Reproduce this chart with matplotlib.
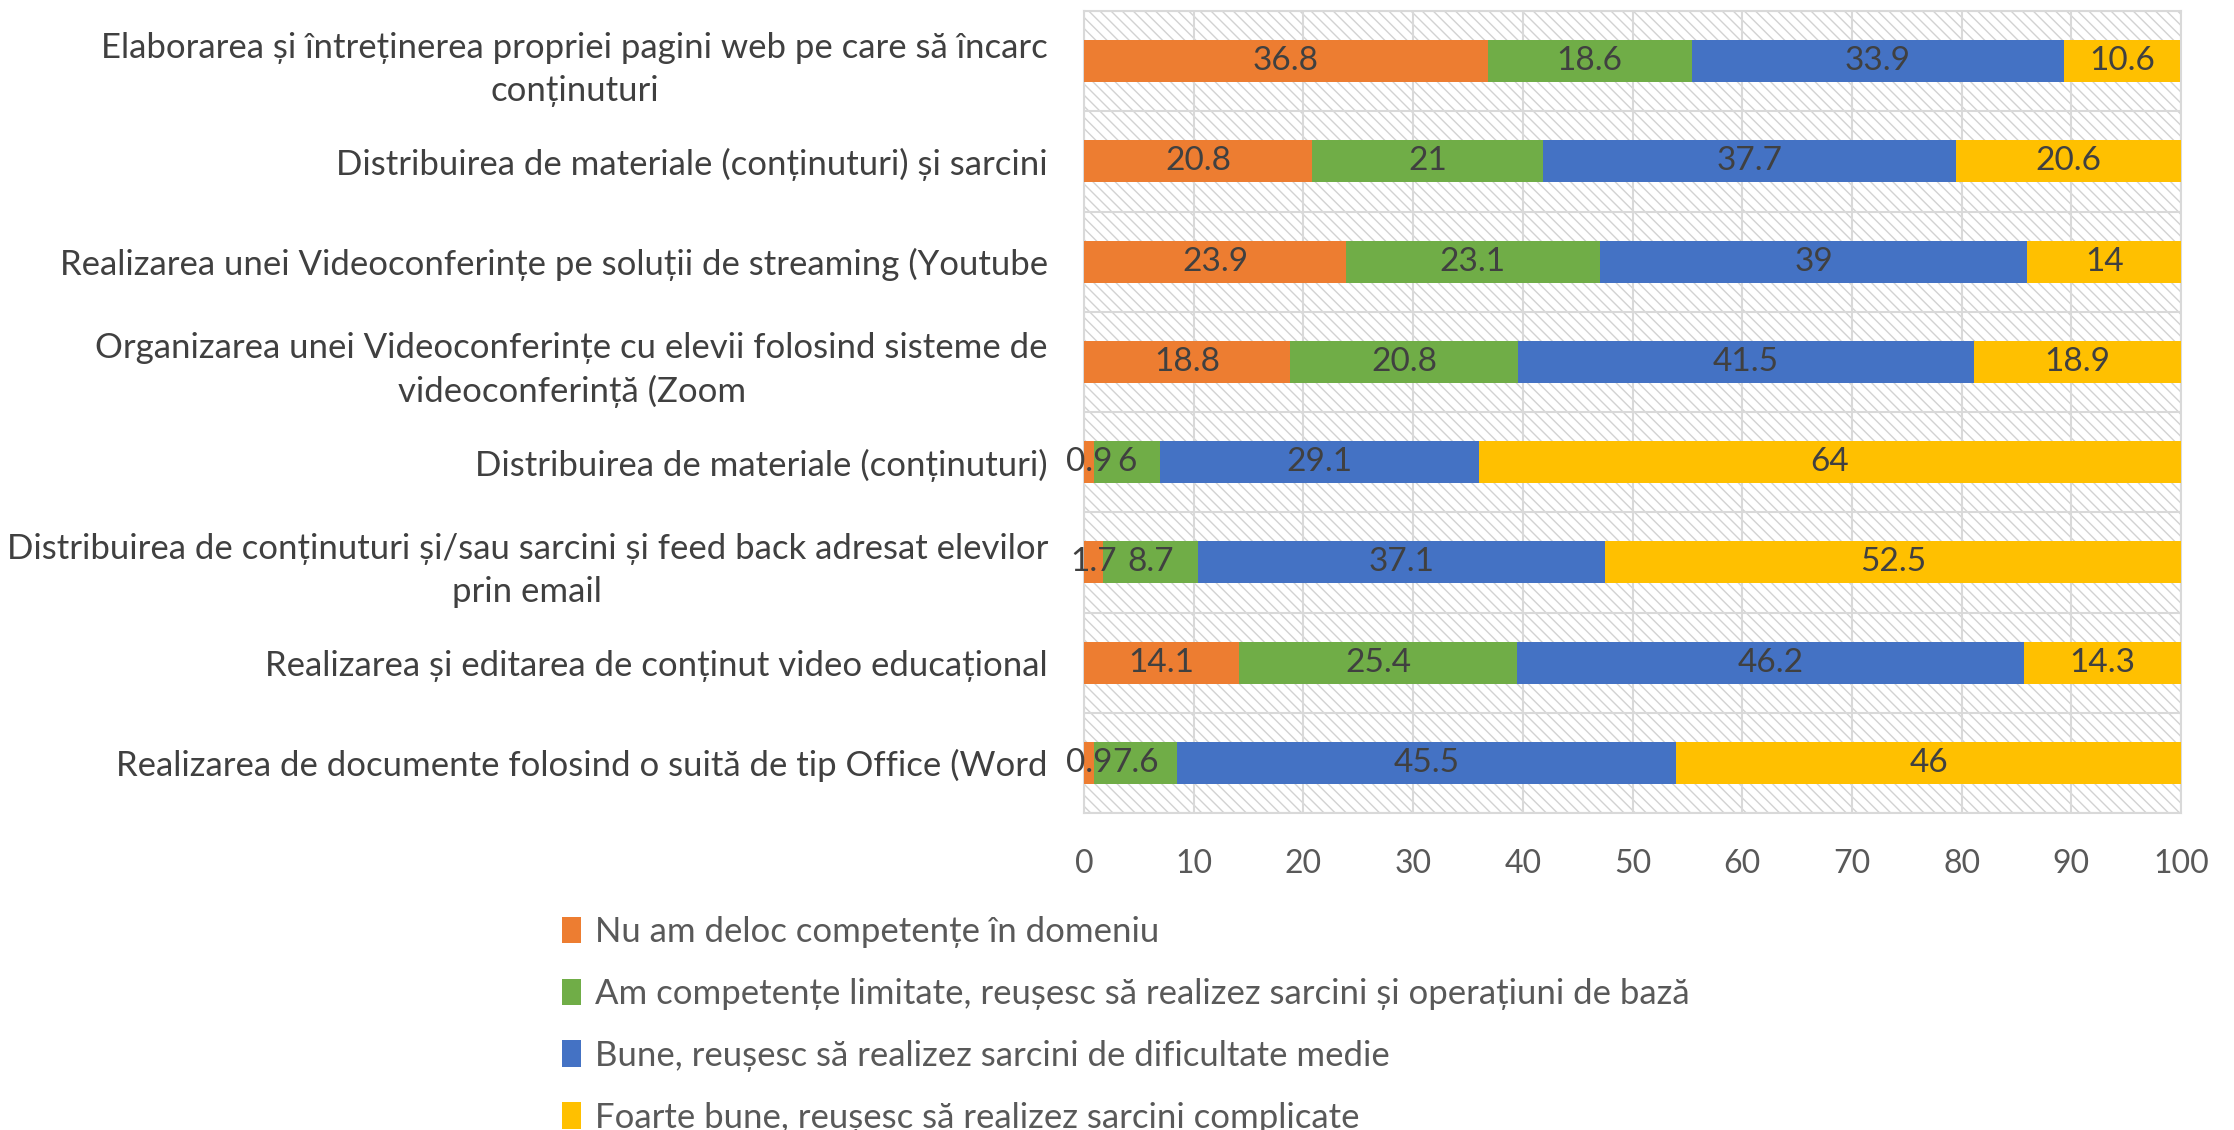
import matplotlib
matplotlib.use("Agg")
import matplotlib.pyplot as plt
from matplotlib.patches import Rectangle, Patch
import numpy as np

plt.rcParams['font.family'] = ['Lato', 'DejaVu Sans']

categories = [
    "Elaborarea și întreținerea propriei pagini web pe care să încarc\nconținuturi",
    "Distribuirea de materiale (conținuturi) și sarcini",
    "Realizarea unei Videoconferințe pe soluții de streaming (Youtube",
    "Organizarea unei Videoconferințe cu elevii folosind sisteme de\nvideoconferință (Zoom",
    "Distribuirea de materiale (conținuturi)",
    "Distribuirea de conținuturi și/sau sarcini și feed back adresat elevilor\nprin email",
    "Realizarea și editarea de conținut video educațional",
    "Realizarea de documente folosind o suită de tip Office (Word",
]
series_names = [
    "Nu am deloc competențe în domeniu",
    "Am competențe limitate, reușesc să realizez sarcini și operațiuni de bază",
    "Bune, reușesc să realizez sarcini de dificultate medie",
    "Foarte bune, reușesc să realizez sarcini complicate",
]
nu_am = [36.8, 20.8, 23.9, 18.8, 0.9, 1.7, 14.1, 0.9]
limitate = [18.6, 21, 23.1, 20.8, 6, 8.7, 25.4, 7.6]
bune = [33.9, 37.7, 39, 41.5, 29.1, 37.1, 46.2, 45.5]
foarte_bune = [10.6, 20.6, 14, 18.9, 64, 52.5, 14.3, 46]
colors = ['#ED7D31', '#70AD47', '#4472C4', '#FFC000']
x_ticks = [0, 10, 20, 30, 40, 50, 60, 70, 80, 90, 100]

W, H = 2234, 1130
fig = plt.figure(figsize=(W / 100, H / 100), dpi=100)
ax = fig.add_axes([1084 / W, 1 - 813 / H, (2181 - 1084) / W, (813 - 11) / H])

grid_c = '#D9D9D9'
plt.rcParams['hatch.linewidth'] = 1.0
bg = Rectangle((0, 0), 1, 1, transform=ax.transAxes, facecolor='white',
               edgecolor='#D2D2D2', hatch='\\\\\\', linewidth=0, zorder=0)
ax.add_patch(bg)

n = len(categories)
y = np.arange(n)[::-1]
left = np.zeros(n)
for vals, c, name in zip([nu_am, limitate, bune, foarte_bune], colors, series_names):
    vals = np.array(vals, dtype=float)
    bars = ax.barh(y, vals, left=left, height=0.42, color=c, label=name, zorder=3)
    labels = [f"{v:g}" for v in vals]
    ax.bar_label(bars, labels=labels, label_type='center', color='#404040',
                 fontsize=24, clip_on=False, zorder=5)
    left += vals

ax.set_xlim(0, 100)
ax.set_ylim(-0.5, n - 0.5)
ax.set_xticks(x_ticks)
ax.set_yticks(y)
ax.set_yticklabels(categories)
ax.set_yticks(np.arange(-0.5, n, 1.0), minor=True)
for t in ax.get_yticklabels():
    t.set_multialignment('center')
    t.set_linespacing(1.4)
ax.tick_params(axis='y', which='both', length=0, pad=26, labelsize=25, labelcolor='#404040')
ax.tick_params(axis='x', length=0, pad=26, labelsize=23, labelcolor='#595959')
ax.grid(True, axis='x', color=grid_c, linewidth=1.5, zorder=1)
ax.grid(True, axis='y', which='minor', color=grid_c, linewidth=1.5, zorder=1)
ax.set_axisbelow(True)
for s in ax.spines.values():
    s.set_color(grid_c)
    s.set_linewidth(1.5)

handles = [Patch(facecolor=c, edgecolor='none') for c in colors]
fig.legend(handles, series_names, loc='upper left',
           bbox_to_anchor=(562 / W, 1 - 916 / H), frameon=False,
           fontsize=25, labelcolor='#595959', handlelength=0.55, handleheight=0.8,
           handletextpad=0.4, labelspacing=0.86, borderaxespad=0, borderpad=0)

fig.savefig('out.png', dpi=100)
